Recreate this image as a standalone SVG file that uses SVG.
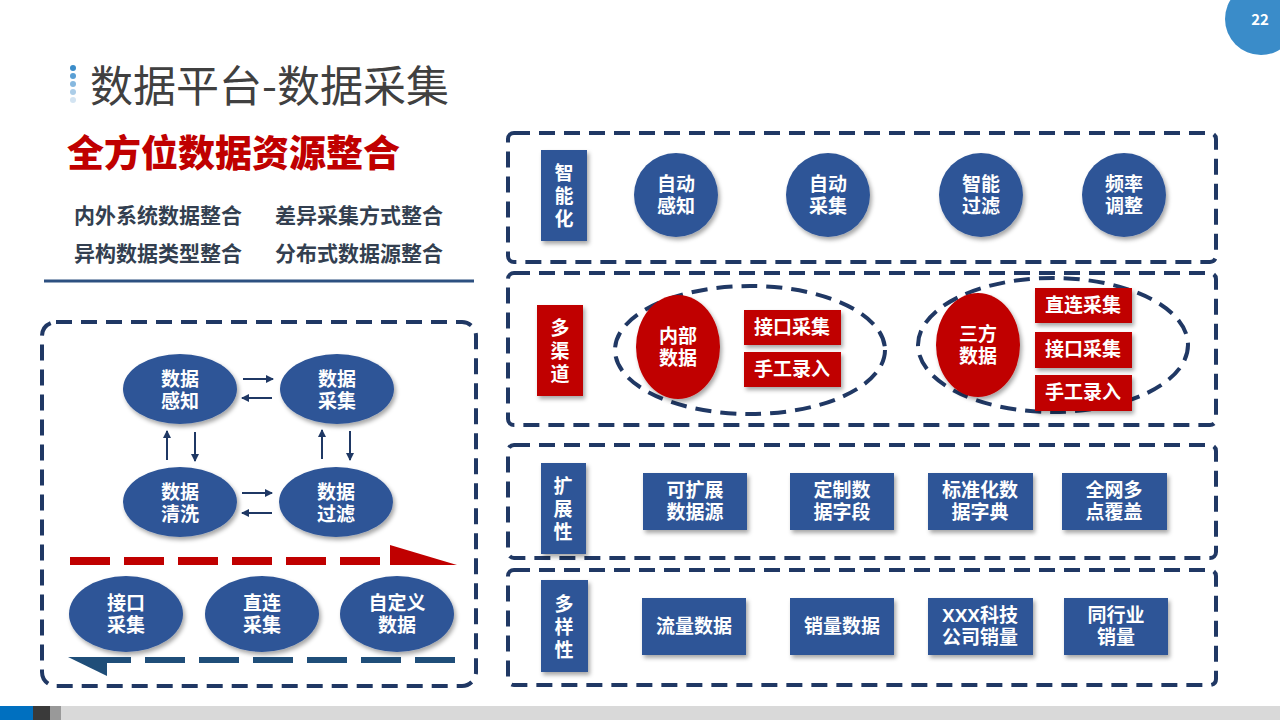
<svg xmlns="http://www.w3.org/2000/svg" width="1280" height="720" viewBox="0 0 1280 720">
<defs>
<filter id="sh" x="-20%" y="-20%" width="150%" height="150%"><feDropShadow dx="2" dy="3" stdDeviation="2" flood-color="#000" flood-opacity="0.35"/></filter>
<marker id="ah" markerWidth="8" markerHeight="8" refX="7" refY="4" orient="auto" markerUnits="userSpaceOnUse"><path d="M0,0 L8,4 L0,8 Z" fill="#1f3864"/></marker>
</defs>
<style>
.t{font-family:"Noto Sans CJK SC","Liberation Sans",sans-serif;}
.w{font-family:"Liberation Sans","Noto Sans CJK SC",sans-serif;fill:#fff;font-weight:700;font-size:19px;text-anchor:middle;}
.blue{fill:#2f5597;}
.red{fill:#c00000;}
.dash{fill:none;stroke:#203864;stroke-width:4;stroke-dasharray:16 9;}
.arr{stroke:#1f3864;stroke-width:2;fill:none;marker-end:url(#ah);}
.sub{fill:#333f50;font-weight:700;font-size:21px;}
</style>
<rect width="1280" height="720" fill="#fff"/>
<g id="title">
<circle cx="73" cy="68" r="3" fill="#3a8cc9"/>
<circle cx="73" cy="76" r="3" fill="#5a9fd4"/>
<circle cx="73" cy="84" r="3" fill="#86b8df"/>
<circle cx="73" cy="92" r="3" fill="#abcde8"/>
<circle cx="73" cy="100" r="3" fill="#d3e4f2"/>
<text class="t" x="90" y="102" font-size="43" fill="#404040">数据平台-数据采集</text>
</g>
<g id="pagenum">
<circle cx="1261" cy="19" r="36" fill="#3a8cc9"/>
<text class="t" x="1260" y="25" font-size="15" font-weight="700" fill="#fff" text-anchor="middle">22</text>
</g>
<g id="footer">
<rect x="0" y="706" width="1280" height="14" fill="#d9d9d9"/>
<rect x="0" y="706" width="33" height="14" fill="#0070c0"/>
<rect x="33" y="706" width="17" height="14" fill="#3a3a3a"/>
<rect x="50" y="706" width="11" height="14" fill="#999"/>
</g>
<g id="heading">
<text class="t" x="67" y="167" font-size="37" font-weight="900" fill="#c00000">全方位数据资源整合</text>
<text class="t sub" x="74" y="223">内外系统数据整合</text>
<text class="t sub" x="275" y="223">差异采集方式整合</text>
<text class="t sub" x="74" y="261">异构数据类型整合</text>
<text class="t sub" x="275" y="261">分布式数据源整合</text>
<line x1="44" y1="281" x2="474" y2="281" stroke="#2d5080" stroke-width="3"/>
</g>
<g id="left-panel">
<rect class="dash" x="42" y="322" width="434" height="364" rx="14"/>
</g>
<g id="n-ganzhi"><ellipse class="blue" filter="url(#sh)" cx="180" cy="389" rx="57" ry="35"/><text class="w" x="180" y="386">数据<tspan x="180" dy="22">感知</tspan></text></g>
<g id="n-caiji"><ellipse class="blue" filter="url(#sh)" cx="337" cy="389" rx="57" ry="35"/><text class="w" x="337" y="386">数据<tspan x="337" dy="22">采集</tspan></text></g>
<g id="n-qingxi"><ellipse class="blue" filter="url(#sh)" cx="180" cy="502" rx="57" ry="35"/><text class="w" x="180" y="499">数据<tspan x="180" dy="22">清洗</tspan></text></g>
<g id="n-guolv"><ellipse class="blue" filter="url(#sh)" cx="336" cy="502" rx="57" ry="35"/><text class="w" x="336" y="499">数据<tspan x="336" dy="22">过滤</tspan></text></g>
<g id="n-jiekou"><ellipse class="blue" filter="url(#sh)" cx="126" cy="614" rx="57" ry="38"/><text class="w" x="126" y="610">接口<tspan x="126" dy="22">采集</tspan></text></g>
<g id="n-zhilian"><ellipse class="blue" filter="url(#sh)" cx="262" cy="614" rx="57" ry="38"/><text class="w" x="262" y="610">直连<tspan x="262" dy="22">采集</tspan></text></g>
<g id="n-zidingyi"><ellipse class="blue" filter="url(#sh)" cx="397" cy="614" rx="57" ry="38"/><text class="w" x="397" y="610">自定义<tspan x="397" dy="22">数据</tspan></text></g>
<g id="connectors">
<line class="arr" x1="243" y1="379" x2="273" y2="379"/>
<line class="arr" x1="272" y1="398" x2="242" y2="398"/>
<line class="arr" x1="242" y1="493" x2="272" y2="493"/>
<line class="arr" x1="272" y1="513" x2="242" y2="513"/>
<line class="arr" x1="167" y1="460" x2="167" y2="431"/>
<line class="arr" x1="195" y1="432" x2="195" y2="461"/>
<line class="arr" x1="322" y1="459" x2="322" y2="430"/>
<line class="arr" x1="350" y1="431" x2="350" y2="460"/>
<line x1="70" y1="561" x2="392" y2="561" stroke="#c00000" stroke-width="8" stroke-dasharray="40 14"/>
<polygon points="390,545 457,565 390,565" fill="#c00000"/>
<line x1="455" y1="660" x2="107" y2="660" stroke="#1f4e79" stroke-width="6" stroke-dasharray="40 14"/>
<polygon points="68,657 107,657 107,676" fill="#1f4e79"/>
</g>
<g id="row1">
<rect class="dash" x="508" y="133" width="708" height="129" rx="6"/>
<rect class="blue" filter="url(#sh)" x="541" y="150" width="46" height="91"/>
<text class="w" x="564" y="180">智<tspan x="564" dy="23">能</tspan><tspan x="564" dy="23">化</tspan></text>
</g>
<g id="r1-a"><circle class="blue" filter="url(#sh)" cx="676" cy="195" r="42"/><text class="w" x="676" y="191">自动<tspan x="676" dy="22">感知</tspan></text></g>
<g id="r1-b"><circle class="blue" filter="url(#sh)" cx="828" cy="195" r="42"/><text class="w" x="828" y="191">自动<tspan x="828" dy="22">采集</tspan></text></g>
<g id="r1-c"><circle class="blue" filter="url(#sh)" cx="981" cy="195" r="42"/><text class="w" x="981" y="191">智能<tspan x="981" dy="22">过滤</tspan></text></g>
<g id="r1-d"><circle class="blue" filter="url(#sh)" cx="1124" cy="195" r="42"/><text class="w" x="1124" y="191">频率<tspan x="1124" dy="22">调整</tspan></text></g>
<g id="row2">
<rect class="dash" x="508" y="273" width="708" height="152" rx="6"/>
<rect class="red" filter="url(#sh)" x="537" y="305" width="46" height="91"/>
<text class="w" x="560" y="335">多<tspan x="560" dy="23">渠</tspan><tspan x="560" dy="23">道</tspan></text>
<ellipse class="dash" cx="750" cy="350" rx="135" ry="64"/>
<ellipse class="dash" cx="1053" cy="345" rx="135" ry="67"/>
</g>
<g id="r2-neibu"><ellipse class="red" filter="url(#sh)" cx="678" cy="347" rx="42" ry="52"/><text class="w" x="678" y="343">内部<tspan x="678" dy="22">数据</tspan></text></g>
<g id="r2-jk1"><rect class="red" filter="url(#sh)" x="744" y="310" width="97" height="35"/><text class="w" x="792" y="334">接口采集</text></g>
<g id="r2-sg1"><rect class="red" filter="url(#sh)" x="744" y="352" width="97" height="35"/><text class="w" x="792" y="376">手工录入</text></g>
<g id="r2-sanfang"><ellipse class="red" filter="url(#sh)" cx="978" cy="345" rx="42" ry="52"/><text class="w" x="978" y="341">三方<tspan x="978" dy="22">数据</tspan></text></g>
<g id="r2-zl"><rect class="red" filter="url(#sh)" x="1035" y="288" width="97" height="35"/><text class="w" x="1083" y="312">直连采集</text></g>
<g id="r2-jk2"><rect class="red" filter="url(#sh)" x="1035" y="332" width="97" height="36"/><text class="w" x="1083" y="356">接口采集</text></g>
<g id="r2-sg2"><rect class="red" filter="url(#sh)" x="1035" y="375" width="97" height="36"/><text class="w" x="1083" y="399">手工录入</text></g>
<g id="row3">
<rect class="dash" x="508" y="445" width="708" height="113" rx="6"/>
<rect class="blue" filter="url(#sh)" x="541" y="463" width="45" height="91"/>
<text class="w" x="563" y="493">扩<tspan x="563" dy="23">展</tspan><tspan x="563" dy="23">性</tspan></text>
</g>
<g id="r3-a"><rect class="blue" filter="url(#sh)" x="643" y="473" width="104" height="57"/><text class="w" x="695" y="497">可扩展<tspan x="695" dy="22">数据源</tspan></text></g>
<g id="r3-b"><rect class="blue" filter="url(#sh)" x="790" y="473" width="104" height="57"/><text class="w" x="842" y="497">定制数<tspan x="842" dy="22">据字段</tspan></text></g>
<g id="r3-c"><rect class="blue" filter="url(#sh)" x="928" y="473" width="105" height="57"/><text class="w" x="980" y="497">标准化数<tspan x="980" dy="22">据字典</tspan></text></g>
<g id="r3-d"><rect class="blue" filter="url(#sh)" x="1062" y="473" width="105" height="57"/><text class="w" x="1114" y="497">全网多<tspan x="1114" dy="22">点覆盖</tspan></text></g>
<g id="row4">
<rect class="dash" x="508" y="570" width="708" height="115" rx="6"/>
<rect class="blue" filter="url(#sh)" x="541" y="580" width="47" height="92"/>
<text class="w" x="564" y="611">多<tspan x="564" dy="23">样</tspan><tspan x="564" dy="23">性</tspan></text>
</g>
<g id="r4-a"><rect class="blue" filter="url(#sh)" x="642" y="598" width="104" height="57"/><text class="w" x="694" y="633">流量数据</text></g>
<g id="r4-b"><rect class="blue" filter="url(#sh)" x="790" y="598" width="104" height="57"/><text class="w" x="842" y="633">销量数据</text></g>
<g id="r4-c"><rect class="blue" filter="url(#sh)" x="928" y="598" width="105" height="57"/><text class="w" x="980" y="622">XXX科技<tspan x="980" dy="22">公司销量</tspan></text></g>
<g id="r4-d"><rect class="blue" filter="url(#sh)" x="1064" y="598" width="104" height="57"/><text class="w" x="1116" y="622">同行业<tspan x="1116" dy="22">销量</tspan></text></g>
</svg>
